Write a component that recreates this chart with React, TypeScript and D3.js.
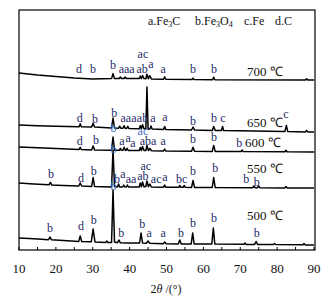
import React from "react";
import * as d3 from "d3";

type P = [number, number];

// 2θ (deg) vs stacked intensity (a.u.)
const s500: P[] = [[10,12],[14,11.2],[18,10.3],[18.4,13],[18.8,10.2],[22,9.6],[26.2,8.6],[26.6,14],[27,8.5],[29.6,8.2],[30.1,21],[30.6,8.1],[33.5,7.6],[33.8,9],[34.1,7.5],[35.1,7.5],[35.5,60],[35.9,8],[36.7,7.3],[37.1,10],[37.5,7.2],[39.5,7],[42.7,7],[43.1,17],[43.5,7],[44.6,6.8],[45,9],[45.4,6.8],[49.1,6.2],[49.5,8],[49.9,6.2],[53.2,6],[53.6,10],[54,6],[56.7,6],[57.1,17],[57.5,6],[62.3,6],[62.7,22],[63.1,6],[71,5.7],[71.3,7],[71.6,5.6],[73.9,5.6],[74.3,8.5],[74.7,5.5],[79,5.5],[79.3,6.5],[79.6,5.5],[87,5.2],[87.3,6.5],[87.6,5.1],[90,5]];

const s550: P[] = [[10,67],[14,66],[18.1,65.2],[18.5,67.5],[18.9,65],[22,64.6],[26.2,64],[26.6,67],[27,64],[29.7,63.6],[30.1,72.5],[30.5,63.5],[35.1,63],[35.5,100],[35.9,63.5],[36.7,63],[37,66],[37.3,63],[38.1,63],[38.4,65],[38.7,63],[39.1,63],[39.4,65],[39.7,63],[42.6,63],[42.9,67],[43.2,63.2],[43.5,68],[43.9,63.3],[44.4,63.5],[44.7,69],[45.1,63.3],[45.5,66],[45.9,63],[49.2,62.8],[49.5,65],[49.8,62.8],[53.3,62.7],[53.6,64.5],[53.9,62.7],[54.5,62.7],[54.8,64.5],[55.1,62.7],[56.8,62.6],[57.2,69.5],[57.6,62.6],[62.4,62.5],[62.8,72.5],[63.2,62.5],[73.4,62.3],[73.7,64],[74,62.3],[74.7,62.3],[75,64],[75.3,62.3],[82.1,62.1],[82.4,63.5],[82.7,62.1],[90,62]];

const s600: P[] = [[10,103],[15,102.2],[20,101.5],[26.3,100.6],[26.6,102.6],[26.9,100.5],[29.7,100.1],[30.1,104],[30.5,100],[35.1,99.8],[35.5,113],[35.9,99.8],[37.2,99.7],[37.5,101.7],[37.8,99.7],[38.2,99.7],[38.5,102.7],[38.8,99.7],[39,99.6],[39.3,101.6],[39.6,99.6],[42.6,99.5],[42.9,102.5],[43.2,99.5],[43.5,103.5],[43.9,99.5],[44.4,99.5],[44.7,104.5],[45.1,99.4],[45.5,101.5],[45.9,99.3],[49.2,99],[49.5,101],[49.8,99],[56.8,98.8],[57.2,102.8],[57.6,98.8],[62.4,98.6],[62.8,104.6],[63.2,98.6],[70.2,98.4],[70.5,100],[70.8,98.4],[82.1,98.2],[82.4,99.7],[82.7,98.2],[90,98]];

const s650: P[] = [[10,125],[15,124.2],[20,123.8],[26.3,123.3],[26.6,126.3],[26.9,123.2],[29.7,123.1],[30.1,126.6],[30.5,123],[35.1,122],[35.5,132],[35.9,122],[37,121.8],[37.3,123.8],[37.6,121.8],[38.2,121.7],[38.5,124.2],[38.8,121.7],[39.2,121.6],[39.5,123.6],[39.8,121.6],[42.6,121.3],[42.9,124.3],[43.2,121.3],[43.5,125.3],[43.9,121.2],[44.4,121.2],[44.7,163],[45,121.1],[45.5,121],[45.8,124],[46.1,121],[49.2,120.6],[49.5,123.6],[49.8,120.6],[56.8,120],[57.2,123],[57.6,120],[62.4,119.6],[62.8,123.6],[63.2,119.6],[64.9,119.5],[65.2,123.5],[65.5,119.5],[82.1,118.4],[82.5,124.4],[82.9,118.4],[87.7,118.1],[88,119.6],[88.3,118.1],[90,118]];

const s700: P[] = [[10,177],[15,175],[20,173.5],[25,172],[30,171],[35.1,171.4],[35.5,176.4],[35.9,171.4],[37.2,171.5],[37.5,173],[37.8,171.5],[38.5,171.5],[38.8,173],[39.1,171.5],[42.6,171.4],[42.9,173.9],[43.2,171.4],[43.5,174.4],[43.9,171.4],[44.4,171.3],[44.7,175.8],[45.1,171.3],[45.5,174.3],[45.9,171],[49.2,170.7],[49.5,173.2],[49.8,170.7],[56.9,170.4],[57.2,171.9],[57.5,170.4],[62.5,170.3],[62.8,172.8],[63.1,170.3],[87.7,170.1],[88,171.1],[88.3,170.1],[90,170]];

const series: P[][] = [s500, s550, s600, s650, s700];

// peak labels: [text, 2θ, intensity]
const peakLabels: [string, number, number][] = [
  // 700
  ["d",26.3,177],["b",30.1,177],["b",35.5,181],["aaa",39.2,177],["ab",43.4,177],["ac",43.6,192],["a",45.8,182],["a",49.1,177],["b",57.2,177],["b",62.9,177],
  // 650
  ["d",26.5,128],["b",30.6,127],["b",35.8,133],["aaa",39.7,128],["ab",43.5,128],["a",46.3,128],["a",49.6,129],["b",57.2,125],["b",62.9,128],["c",65.3,128],["c",82.4,132],
  // 600
  ["d",26.5,105],["b",30.9,106],["a",37.9,105],["a",39.6,108],["a",40.9,103],["aba",45.0,105],["a",49.1,105],["b",57.2,107],["b",62.9,109],["b",69.7,103],
  // 550
  ["b",18.7,72],["d",26.8,68],["b",30.3,75],["b",36.6,67],["a",38.2,72],["aa",40.4,67],["ab",43.6,70],["ac",44.4,80],["ac",47.2,67],["a",49.6,69],["bc",54.1,67],["b",57.2,75],["b",63.2,78],["b",71.6,67],["b",74.5,64],
  // 500
  ["b",18.4,18],["d",26.8,20],["b",30.3,26],["b",37.7,13],["b",43.4,22],["a",45.3,13],["a",49.1,13],["b",53.9,13],["b",57.2,23],["b",62.9,28],["b",74.5,13],
];

// overlapping labels drawn in lighter blue
const overlapLabels: [string, number, number][] = [
  ["b",35.6,118],["ac",43.6,115],["b",35.6,97],["b",35.6,60],
];

// temperature labels: [text, 2θ, intensity]
const tempLabels: [string, number, number][] = [
  ["700 ℃",71.8,174],["650 ℃",71.8,123],["600 ℃",71.3,103],["550 ℃",71.8,77],["500 ℃",71.8,30],
];

const xTicks = [10,20,30,40,50,60,70,80,90];
const xMinorTicks = [15,25,35,45,55,65,75,85];

const W = 335, H = 304;
const L = 19, R = 314, T = 10, B = 250;
const FONT = "'Liberation Serif', 'Times New Roman', serif";

export default function App() {
  const x = d3.scaleLinear().domain([10, 90]).range([L, R]);
  const y = d3.scaleLinear().domain([0, 240]).range([B, T]);
  const line = d3.line<P>().x(d => x(d[0])).y(d => y(d[1]));
  const labelColor = "#1e2c66";
  const overlapColor = "#3d6cc8";
  return (
    <svg width={W} height={H} style={{ position: "absolute", left: 0, top: 0, background: "#fff" }} fontFamily={FONT}>
      <rect x={0} y={0} width={W} height={H} fill="#fff" />
      {series.map((s, i) => (
        <path key={i} d={line(s) || ""} fill="none" stroke="#000" strokeWidth={1.5} strokeLinejoin="round" />
      ))}
      <rect x={L} y={T} width={R - L + 1} height={B - T} fill="none" stroke="#000" strokeWidth={1.2} />
      {[...xTicks, ...xMinorTicks].map(t => (
        <line key={"t" + t} x1={x(t)} x2={x(t)} y1={B} y2={B - 3} stroke="#000" strokeWidth={1} />
      ))}
      {xTicks.map(t => (
        <text key={"l" + t} x={x(t)} y={272.5} textAnchor="middle" fontSize={13} fill="#111">{t}</text>
      ))}
      <text x={166} y={293} textAnchor="middle" fontSize={12} fill="#111">
        2<tspan fontStyle="italic">θ</tspan> /(°)
      </text>
      {peakLabels.map(([t, a, v], i) => (
        <text key={"p" + i} x={x(a)} y={y(v)} textAnchor="middle" fontSize={12} fill={labelColor}>{t}</text>
      ))}
      {overlapLabels.map(([t, a, v], i) => (
        <text key={"o" + i} x={x(a)} y={y(v)} textAnchor="middle" fontSize={12} fill={overlapColor}>{t}</text>
      ))}
      {tempLabels.map(([t, a, v], i) => (
        <text key={"T" + i} x={x(a)} y={y(v)} textAnchor="start" fontSize={13} fill="#111">{t}</text>
      ))}
      <g fontSize={12} fill="#111">
        <text x={148} y={25}>a.Fe<tspan fontSize={8} dy={2}>3</tspan><tspan dy={-2}>C</tspan></text>
        <text x={195} y={25}>b.Fe<tspan fontSize={8} dy={2}>3</tspan><tspan dy={-2}>O</tspan><tspan fontSize={8} dy={2}>4</tspan></text>
        <text x={244} y={25}>c.Fe</text>
        <text x={275} y={25}>d.C</text>
      </g>
    </svg>
  );
}
